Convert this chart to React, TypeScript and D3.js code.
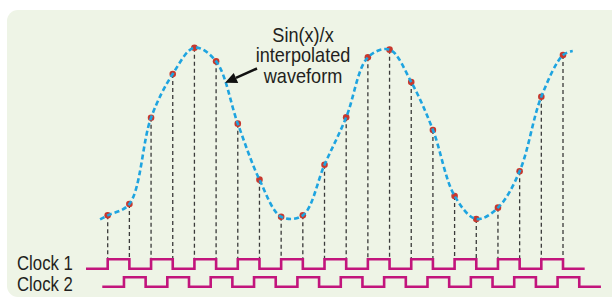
import React from "react";
import * as d3 from "d3";

// sampled amplitude (0..100) at each clock edge
const samples = [3.8, 10.3, 59.6, 84.6, 99.6, 91.8, 56.2, 24.2, 3.0, 3.8, 32.7, 59.8, 94.1, 98.5, 80, 52.6, 14.9, 1.7, 8.2, 29, 71.6, 95.4];
// waveform tails beyond first/last sample
const curveHead = { i: -0.35, v: 1.5 };
const curveTail = { i: 21.45, v: 97.7 };

// clock levels at sample index -1 .. 22 (step after)
const clockLevels = [0, 1, 0, 1, 0, 1, 0, 1, 0, 1, 0, 1, 0, 1, 0, 1, 0, 1, 0, 1, 0, 1, 0, 0];
const clockNames = ["Clock 1", "Clock 2"];
const clockShift = [0, 0.75];

const annotation = ["Sin(x)/x", "interpolated", "waveform"];

const W = 612;
const H = 302;
const FONT = "'Liberation Sans', Arial, sans-serif";

const App: React.FC = () => {
  const x = d3.scaleLinear().domain([0, samples.length - 1]).range([107.7, 563]);
  const y = d3.scaleLinear().domain([0, 100]).range([222, 47]);
  const clockY = [
    d3.scaleLinear().domain([0, 1]).range([268.7, 259.3]),
    d3.scaleLinear().domain([0, 1]).range([286.7, 277.3]),
  ];
  const labelBase = [270, 291];

  const wavePts: [number, number][] = [
    [curveHead.i, curveHead.v],
    ...samples.map((v, i) => [i, v] as [number, number]),
    [curveTail.i, curveTail.v],
  ];
  const wave = d3
    .line<[number, number]>()
    .x((d) => x(d[0]))
    .y((d) => y(d[1]))
    .curve(d3.curveCatmullRom.alpha(0.5));

  const clockPath = (k: number) =>
    d3
      .line<number>()
      .x((_, i) => x(i - 1 + clockShift[k]))
      .y((d) => clockY[k](d))
      .curve(d3.curveStepAfter)(clockLevels) || "";

  // arrow from label to curve
  const tail = [257, 68.5];
  const tip = [225, 82.8];
  const ang = Math.atan2(tip[1] - tail[1], tip[0] - tail[0]);
  const headLen = 12;
  const headW = 5.5;
  const bx = tip[0] - headLen * Math.cos(ang);
  const by = tip[1] - headLen * Math.sin(ang);
  const head = [
    [tip[0], tip[1]],
    [bx + headW * Math.sin(ang), by - headW * Math.cos(ang)],
    [bx - headW * Math.sin(ang), by + headW * Math.cos(ang)],
  ];

  return (
    <svg width={W} height={H} style={{ display: "block", position: "absolute", left: 0, top: 0 }}>
      <rect x={0} y={0} width={W} height={H} fill="#ffffff" />
      <rect x={7} y={10} width={W - 7 + 12} height={287} rx={11} ry={11} fill="#eef4e6" />

      {/* sample drop lines */}
      {samples.map((v, i) => (
        <line
          key={"v" + i}
          x1={x(i)}
          x2={x(i)}
          y1={y(v)}
          y2={clockY[0](1)}
          stroke="#3a3a3a"
          strokeWidth={1.3}
          strokeDasharray="4,3"
        />
      ))}

      {/* sample points */}
      {samples.map((v, i) => (
        <circle key={"p" + i} cx={x(i)} cy={y(v)} r={3.3} fill="#c7382e" />
      ))}

      <path
        d={wave(wavePts) || ""}
        fill="none"
        stroke="#1ea4e0"
        strokeWidth={2.6}
        strokeDasharray="5,3"
      />

      {/* clocks */}
      {clockNames.map((name, k) => (
        <g key={name}>
          <path d={clockPath(k)} fill="none" stroke="#c2157c" strokeWidth={2.6} strokeLinejoin="miter" />
          <text
            transform={`translate(17,${labelBase[k]}) scale(0.86,1)`}
            fontFamily={FONT}
            fontSize={19.5}
            fill="#231f20"
          >
            {name}
          </text>
        </g>
      ))}

      {/* annotation */}
      {annotation.map((t, i) => (
        <text
          key={t}
          transform={`translate(303,${41.7 + i * 20.4}) scale(0.93,1)`}
          textAnchor="middle"
          fontFamily={FONT}
          fontSize={19.5}
          fill="#231f20"
        >
          {t}
        </text>
      ))}
      <line x1={tail[0]} y1={tail[1]} x2={bx} y2={by} stroke="#111" strokeWidth={2.6} />
      <polygon points={head.map((p) => p.join(",")).join(" ")} fill="#111" />
    </svg>
  );
};

export default App;
